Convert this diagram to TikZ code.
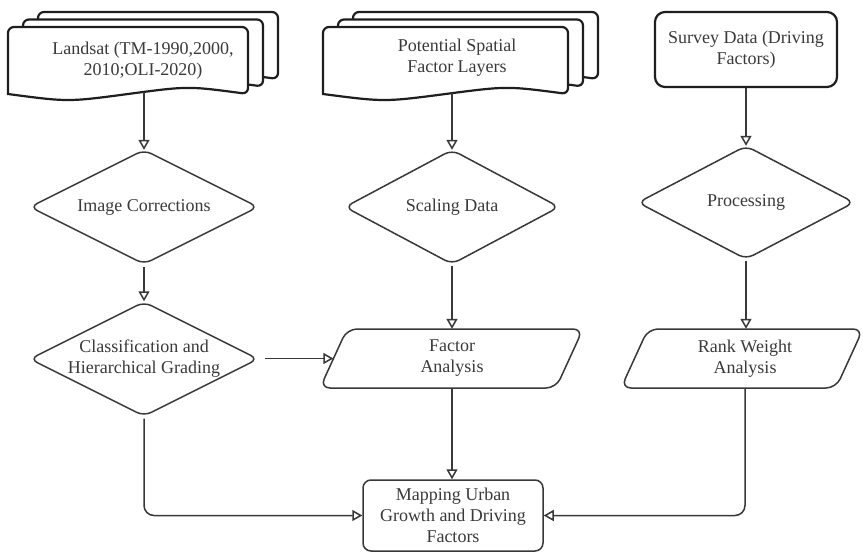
\documentclass[tikz,border=0pt]{standalone}
\usepackage{fontspec}
\setmainfont{Liberation Serif}
\usetikzlibrary{arrows.meta}
\definecolor{ln}{HTML}{383838}
\definecolor{tx}{HTML}{3A3A3A}
\definecolor{dk}{HTML}{1E1E1E}
\newcommand\docpage[4]{% x0, x1, top, bottom baseline
  \draw[docshape] (#1,#4) [rounded corners=6pt] -- (#1,#3) -- (#2,#3) -- (#2,#4) [sharp corners]
    .. controls ({#2-0.25*(#2-#1)},{#4-8}) .. ({0.5*(#1+#2)},#4)
    .. controls ({#1+0.25*(#2-#1)},{#4+8}) .. (#1,#4) -- cycle;}
\newcommand\decpath[4]{% cx, cy, half width, half height
  \draw[decshape] ({#1-#3},#2) -- (#1,{#2-#4}) -- ({#1+#3},#2) -- (#1,{#2+#4}) -- cycle;}
\begin{document}
\begin{tikzpicture}[x=1pt,y=-1pt,
  every node/.style={font=\fontsize{18}{21}\selectfont, text=tx, align=center},
  conn/.style={draw=ln, line width=1.5pt, -{Triangle[open,length=10pt,width=11pt]}, rounded corners=10pt},
  decshape/.style={draw=ln, line width=1.5pt, rounded corners=8pt, fill=white},
  docshape/.style={draw=dk, line width=2.2pt, fill=white},
  para/.style={draw=ln, line width=1.5pt, fill=white, rounded corners=10pt},
  anchorbox/.style={rectangle, inner sep=0pt},
  terminal/.style={rectangle, draw=dk, line width=2.2pt, rounded corners=10pt, fill=white, inner sep=0pt},
  process/.style={rectangle, draw=ln, line width=1.5pt, rounded corners=8pt, fill=white, inner sep=0pt}
]
\fill[white] (0,0) rectangle (863,552);
\useasboundingbox (0,0) rectangle (863,552);

% Landsat multi-document
\docpage{38}{278}{12}{79}
\docpage{23}{263}{19.5}{86.5}
\docpage{8}{248}{27}{94}
\node (landsat) at (143,61) {Landsat (TM-1990,2000,\\2010;OLI-2020)};
\coordinate (lsout) at (144,91.5);

% Potential spatial factor layers
\docpage{353}{598}{12}{79}
\docpage{338}{583}{19.5}{86.5}
\docpage{323}{568}{27}{94}
\node (pot) at (457,58) {Potential Spatial\\Factor Layers};
\coordinate (psout) at (452,93);

% Survey data
\node[terminal, minimum width=182pt, minimum height=75pt] (survey) at (746,49.5) {Survey Data (Driving\\Factors)};

% Decisions
\decpath{144}{207}{114}{57}
\node[anchorbox, minimum width=228pt, minimum height=114pt] (ic) at (144,207) {Image Corrections};
\decpath{452}{207}{107}{57}
\node[anchorbox, minimum width=214pt, minimum height=114pt] (sd) at (452,207) {Scaling Data};
\decpath{746}{202.5}{108}{56.5}
\node[anchorbox, minimum width=216pt, minimum height=113pt] (pr) at (746,202.5) {Processing};
\decpath{144}{359}{114}{57}
\node[anchorbox, minimum width=228pt, minimum height=114pt] (cl) at (144,358.5) {Classification and\\Hierarchical Grading};

% Parallelograms
\draw[para] (320,388) -- (347,329) -- (583,329) -- (556,388) -- cycle;
\node[anchorbox, minimum width=237pt, minimum height=59pt] (fa) at (452,358.5) {Factor\\Analysis};
\draw[para] (621,388) -- (648,329) -- (863,329) -- (836,388) -- cycle;
\node[anchorbox, minimum width=220pt, minimum height=59pt] (rw) at (745,358.5) {Rank Weight\\Analysis};

% Output
\node[process, minimum width=180pt, minimum height=71pt] (mp) at (453,515.5) {Mapping Urban\\Growth and Driving\\Factors};

% Connectors
\draw[conn] (lsout) -- (ic.north);
\draw[conn, shorten <=3pt] (ic.south) -- (cl.north);
\draw[conn] (psout) -- (sd.north);
\draw[conn] (survey.south) -- (pr.north);
\draw[conn, shorten <=2pt] (sd.south) -- (sd.south |- fa.north);
\draw[conn, shorten <=2pt] (pr.south) -- (pr.south |- rw.north);
\draw[conn, shorten <=7pt] (cl.east) -- (fa.west);
\draw[conn] (fa.south) -- (fa.south |- mp.north);
\draw[conn, shorten <=3pt] (cl.south) |- (mp.west);
\draw[conn] (rw.south) |- (mp.east);
\end{tikzpicture}
\end{document}
